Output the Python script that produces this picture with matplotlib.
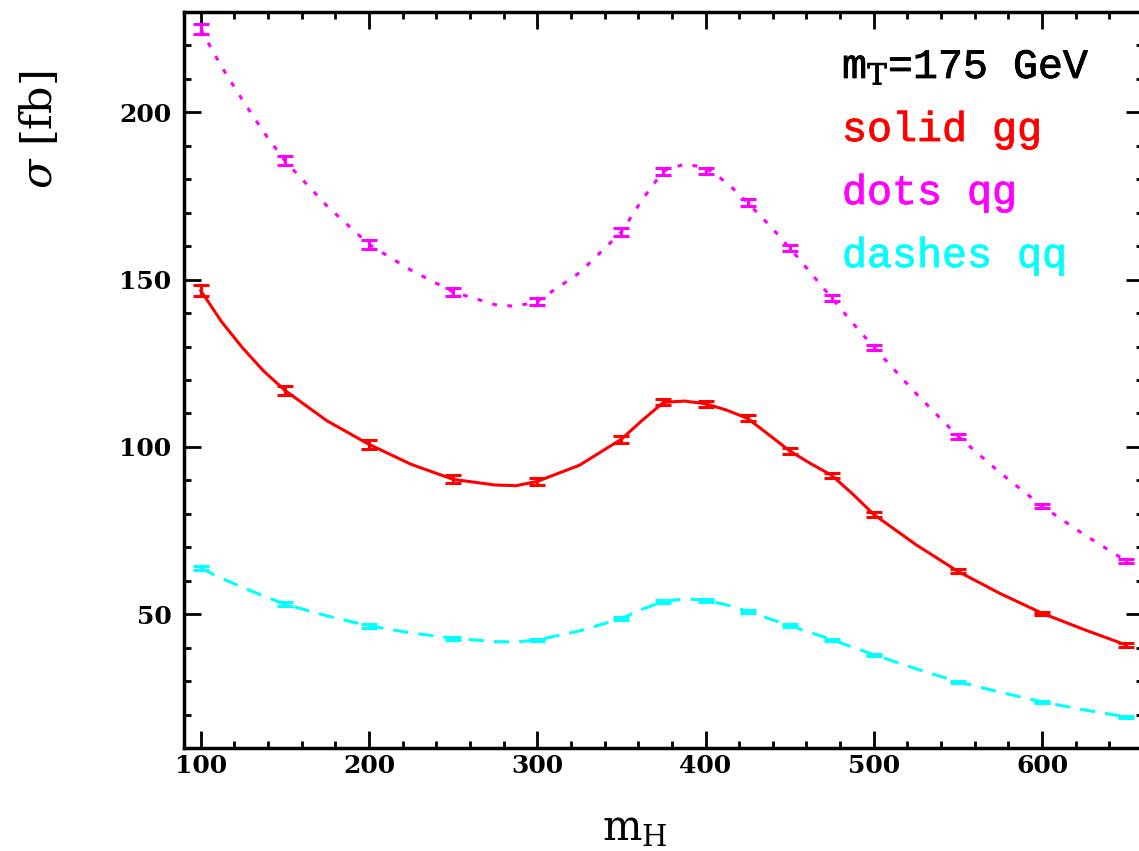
import matplotlib.pyplot as plt
import matplotlib.patheffects as pe
from matplotlib.ticker import MultipleLocator

plt.rcParams['mathtext.fontset'] = 'dejavuserif'

# measured points (mH in GeV, sigma in fb)
m_h = [100, 150, 200, 250, 300, 350, 375, 400, 425, 450, 475, 500, 550, 600, 650]
sig_gg = [146.7, 116.9, 100.75, 90.3, 89.7, 102.3, 113.3, 112.7, 108.5, 98.8, 91.5, 79.8, 62.8, 50.3, 40.8]
err_gg = [1.7, 1.35, 1.25, 1.15, 1.0, 1.0, 0.9, 0.9, 0.9, 0.8, 0.8, 0.7, 0.6, 0.5, 0.5]
sig_qg = [224.8, 185.5, 160.5, 146.3, 143.5, 164.2, 182.3, 182.5, 173.0, 159.5, 144.5, 129.8, 103.2, 82.3, 65.9]
err_qg = [1.5, 1.4, 1.3, 1.2, 1.1, 1.1, 1.0, 1.0, 1.0, 0.9, 0.9, 0.8, 0.7, 0.6, 0.5]
sig_qq = [63.7, 53.0, 46.5, 42.8, 42.3, 48.7, 53.8, 54.0, 50.8, 46.6, 42.4, 37.9, 29.8, 23.8, 19.3]
err_qq = [0.6, 0.5, 0.5, 0.4, 0.4, 0.4, 0.4, 0.4, 0.4, 0.4, 0.3, 0.3, 0.3, 0.3, 0.3]

# fitted curves
m_fit = [100, 112.5, 125, 137.5, 150, 175, 200, 225, 250, 275, 287.5, 300, 325, 350,
         362.5, 375, 387.5, 400, 412.5, 425, 437.5, 450, 462.5, 475, 487.5, 500, 525,
         550, 575, 600, 625, 650]
fit_gg = [146.7, 137.3, 129.5, 122.6, 116.9, 107.8, 100.75, 94.8, 90.3, 88.6, 88.4, 89.7,
          94.5, 102.3, 108.0, 113.3, 113.7, 112.9, 111.0, 108.5, 103.7, 98.8, 95.0, 91.5,
          85.9, 79.8, 70.8, 62.8, 56.2, 50.3, 45.4, 40.8]
fit_qg = [224.8, 213.5, 203.5, 194.0, 185.5, 172.0, 160.5, 152.8, 146.3, 142.5, 142.0,
          143.5, 152.0, 164.2, 174.0, 182.5, 184.5, 183.5, 179.0, 173.0, 166.5, 159.5,
          152.0, 144.5, 137.0, 129.8, 116.0, 103.2, 92.3, 82.3, 73.8, 65.9]
fit_qq = [63.7, 60.7, 58.0, 55.4, 53.0, 49.5, 46.5, 44.4, 42.8, 41.8, 41.7, 42.3, 45.0,
          48.7, 51.5, 53.8, 54.6, 54.2, 52.8, 50.8, 48.7, 46.6, 44.5, 42.4, 40.1, 37.9,
          33.7, 29.8, 26.7, 23.8, 21.4, 19.3]

red = '#ff0000'
magenta = '#ff00ff'
cyan = '#00ffff'

fig = plt.figure(figsize=(11.39, 8.51), dpi=100)
ax = fig.add_axes([0.1615, 0.121, 0.842, 0.865])

ax.plot(m_fit, fit_gg, color=red, lw=2.2, linestyle='-')
ax.plot(m_fit, fit_qg, color=magenta, lw=2.2, linestyle=(0, (1.6, 3.4)))
ax.plot(m_fit, fit_qq, color=cyan, lw=2.2, linestyle=(0, (5, 3.3)))

for y, e, c in [(sig_gg, err_gg, red), (sig_qg, err_qg, magenta), (sig_qq, err_qq, cyan)]:
    ax.errorbar(m_h, y, yerr=e, fmt='none', ecolor=c, elinewidth=2.2,
                capsize=6, capthick=2.2)

ax.set_xlim(90, 660)
ax.set_ylim(10, 230)
ax.xaxis.set_major_locator(MultipleLocator(100))
ax.xaxis.set_minor_locator(MultipleLocator(20))
ax.yaxis.set_major_locator(MultipleLocator(50))
ax.yaxis.set_minor_locator(MultipleLocator(10))
ax.tick_params(which='both', direction='in', top=True, right=True, width=2)
ax.tick_params(which='major', length=12)
ax.tick_params(which='minor', length=5)
ax.tick_params(axis='x', pad=4)
ax.tick_params(axis='y', pad=9)
for lab in ax.get_xticklabels() + ax.get_yticklabels():
    lab.set_fontfamily('DejaVu Serif')
    lab.set_fontweight('bold')
    lab.set_fontsize(18)
for s in ax.spines.values():
    s.set_linewidth(2.5)

fig.text(0.557, 0.026, r'$\mathrm{m_H}$', fontsize=30, ha='center', va='center')
fig.text(0.035, 0.847, r'$\sigma$ [fb]', fontsize=31, rotation=90, ha='center',
         va='center', family='DejaVu Serif')

legend_items = [('m$_{\\mathrm{T}}$=175 GeV', 'black'), ('solid gg', red),
                ('dots qg', magenta), ('dashes qq', cyan)]
for i, (txt, col) in enumerate(legend_items):
    fig.text(842 / 1139, 1 - (78 + 63 * i) / 851, txt, color=col, fontsize=30,
             family='Liberation Mono', ha='left', va='baseline',
             path_effects=[pe.withStroke(linewidth=0.6, foreground=col)])

fig.savefig('out.png', dpi=100)
